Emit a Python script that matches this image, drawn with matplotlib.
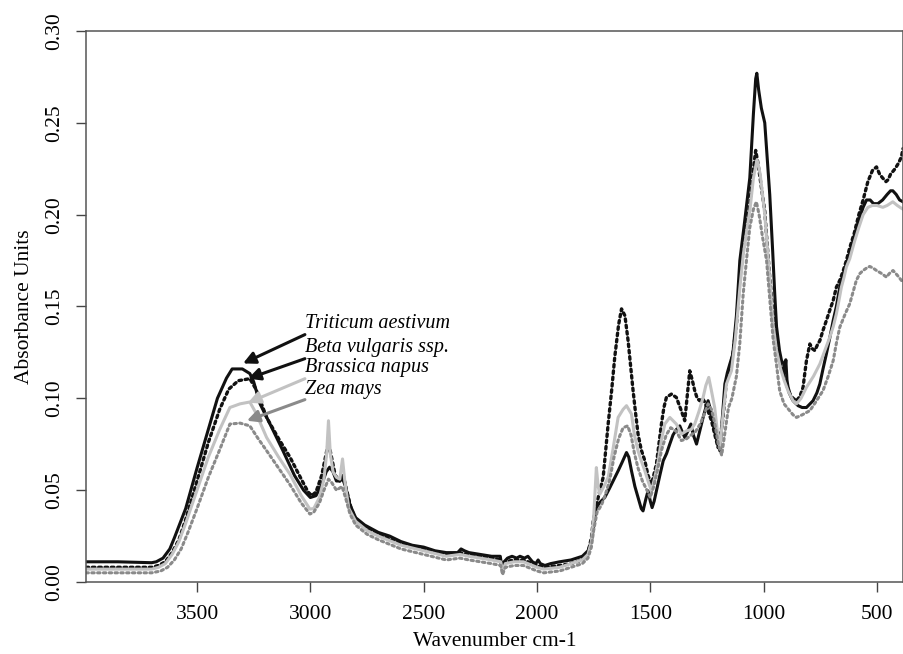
import matplotlib
matplotlib.use("Agg")
import matplotlib.pyplot as plt

plt.rcParams['font.family'] = ['Liberation Serif', 'DejaVu Serif']

# Triticum aestivum (black solid)
wheat_wn = [3990, 3850, 3700, 3680, 3650, 3620, 3600, 3550, 3500, 3450, 3410, 3370, 3345, 3300, 3267, 3250, 3222,
            3170, 3121, 3070, 3030, 3000, 2975, 2950, 2930, 2915, 2900, 2885, 2870, 2860, 2845, 2825, 2800, 2760,
            2700, 2650, 2600, 2550, 2500, 2450, 2400, 2350, 2335, 2320, 2300, 2250, 2200, 2162, 2155, 2145, 2130,
            2110, 2090, 2075, 2055, 2040, 2020, 2005, 1995, 1985, 1965, 1940, 1900, 1850, 1800, 1775, 1760, 1750,
            1740, 1725, 1701, 1680, 1660, 1642, 1625, 1605, 1595, 1583, 1568, 1554, 1540, 1532, 1520, 1510, 1500,
            1492, 1483, 1473, 1458, 1443, 1428, 1414, 1400, 1385, 1370, 1360, 1348, 1335, 1321, 1310, 1296, 1282,
            1267, 1255, 1245, 1235, 1223, 1210, 1193, 1182, 1171, 1160, 1149, 1136, 1120, 1105, 1085, 1061, 1045,
            1035, 1030, 1022, 1010, 995, 985, 973, 960, 951, 943, 930, 921, 912, 907, 902, 897, 892, 880, 870, 848,
            830, 811, 795, 782, 765, 752, 738, 723, 708, 693, 679, 664, 650, 635, 620, 600, 580, 561, 546, 530, 515,
            496, 475, 455, 440, 430, 415, 400, 385]
wheat_abs = [0.011, 0.011, 0.0105, 0.011, 0.013, 0.018, 0.024, 0.040, 0.062, 0.083, 0.100, 0.111, 0.116, 0.116,
             0.1135, 0.109, 0.097, 0.084, 0.0715, 0.058, 0.050, 0.046, 0.047, 0.053, 0.060, 0.0625, 0.060, 0.055,
             0.055, 0.057, 0.052, 0.042, 0.035, 0.031, 0.027, 0.025, 0.022, 0.020, 0.019, 0.017, 0.016, 0.016, 0.018,
             0.017, 0.016, 0.015, 0.014, 0.014, 0.008, 0.011, 0.013, 0.014, 0.013, 0.014, 0.013, 0.014, 0.011, 0.010,
             0.012, 0.010, 0.009, 0.010, 0.011, 0.012, 0.014, 0.017, 0.022, 0.030, 0.040, 0.043, 0.046, 0.051, 0.056,
             0.0605, 0.065, 0.0705, 0.068, 0.0605, 0.052, 0.046, 0.040, 0.0387, 0.045, 0.0496, 0.044, 0.0405, 0.044,
             0.0496, 0.058, 0.066, 0.070, 0.0751, 0.080, 0.083, 0.085, 0.082, 0.0787, 0.082, 0.086, 0.080, 0.0751,
             0.082, 0.0896, 0.095, 0.0987, 0.094, 0.086, 0.079, 0.0714, 0.090, 0.1078, 0.114, 0.1187, 0.124, 0.145,
             0.175, 0.195, 0.220, 0.255, 0.274, 0.277, 0.268, 0.258, 0.250, 0.232, 0.211, 0.180, 0.157, 0.139, 0.126,
             0.1205, 0.119, 0.114, 0.121, 0.110, 0.106, 0.101, 0.0987, 0.096, 0.095, 0.095, 0.097, 0.0987, 0.103,
             0.1078, 0.116, 0.1242, 0.133, 0.1424, 0.150, 0.1605, 0.167, 0.1733, 0.179, 0.188, 0.197, 0.204, 0.208,
             0.208, 0.206, 0.206, 0.208, 0.211, 0.213, 0.213, 0.211, 0.208, 0.207]

# Beta vulgaris ssp. (black dotted)
beet_wn = [3990, 3850, 3700, 3670, 3640, 3610, 3580, 3550, 3500, 3450, 3400, 3360, 3318, 3267, 3240, 3193, 3140,
           3090, 3040, 3010, 2994, 2975, 2950, 2930, 2920, 2910, 2890, 2870, 2855, 2840, 2820, 2800, 2750, 2700,
           2600, 2500, 2400, 2340, 2300, 2200, 2160, 2152, 2140, 2100, 2060, 2000, 1970, 1900, 1850, 1800, 1775,
           1760, 1752, 1740, 1730, 1708, 1686, 1670, 1657, 1640, 1627, 1612, 1598, 1587, 1576, 1565, 1554, 1540,
           1524, 1510, 1495, 1485, 1473, 1462, 1451, 1440, 1429, 1407, 1385, 1363, 1348, 1338, 1326, 1315, 1304,
           1293, 1282, 1270, 1260, 1245, 1230, 1215, 1201, 1190, 1179, 1164, 1150, 1135, 1120, 1105, 1090, 1076,
           1060, 1045, 1035, 1025, 1010, 995, 985, 973, 960, 943, 925, 910, 900, 885, 870, 855, 840, 826, 818, 811,
           800, 796, 785, 774, 763, 752, 738, 723, 708, 693, 679, 664, 650, 635, 620, 600, 580, 561, 540, 520, 502,
           488, 475, 460, 451, 440, 420, 405, 392, 385]
beet_abs = [0.008, 0.008, 0.008, 0.009, 0.011, 0.016, 0.023, 0.034, 0.055, 0.076, 0.094, 0.105, 0.1096, 0.1107,
            0.105, 0.0896, 0.078, 0.068, 0.056, 0.049, 0.047, 0.049, 0.058, 0.070, 0.076, 0.070, 0.058, 0.055,
            0.058, 0.050, 0.040, 0.034, 0.029, 0.026, 0.021, 0.018, 0.015, 0.016, 0.015, 0.013, 0.012, 0.007,
            0.011, 0.012, 0.012, 0.009, 0.008, 0.009, 0.010, 0.012, 0.016, 0.024, 0.033, 0.040, 0.046, 0.057,
            0.086, 0.105, 0.1223, 0.140, 0.1487, 0.145, 0.1314, 0.118, 0.1042, 0.092, 0.0805, 0.072, 0.066,
            0.058, 0.0532, 0.058, 0.0642, 0.075, 0.086, 0.095, 0.1005, 0.1023, 0.1005, 0.0932, 0.0878, 0.100,
            0.115, 0.110, 0.1042, 0.100, 0.0987, 0.100, 0.098, 0.093, 0.0878, 0.080, 0.0732, 0.080, 0.0896,
            0.110, 0.115, 0.125, 0.140, 0.166, 0.180, 0.193, 0.207, 0.225, 0.235, 0.228, 0.215, 0.202, 0.185,
            0.166, 0.148, 0.130, 0.118, 0.112, 0.108, 0.1024, 0.100, 0.0987, 0.101, 0.106, 0.114, 0.1205, 0.127,
            0.1296, 0.127, 0.126, 0.129, 0.1314, 0.137, 0.1424, 0.148, 0.1533, 0.1605, 0.1642, 0.169, 0.175,
            0.182, 0.190, 0.200, 0.208, 0.218, 0.224, 0.226, 0.222, 0.220, 0.218, 0.219, 0.222, 0.225, 0.228,
            0.2315, 0.236]

# Brassica napus (light grey solid)
rape_wn = [3990, 3850, 3700, 3670, 3640, 3610, 3580, 3550, 3500, 3450, 3400, 3355, 3310, 3267, 3240, 3193, 3140,
           3090, 3040, 3002, 2985, 2960, 2940, 2928, 2920, 2912, 2900, 2885, 2870, 2858, 2848, 2830, 2800, 2750,
           2700, 2600, 2500, 2400, 2340, 2300, 2200, 2160, 2152, 2140, 2100, 2060, 2000, 1970, 1900, 1850, 1800,
           1775, 1760, 1750, 1738, 1730, 1723, 1705, 1686, 1665, 1642, 1620, 1605, 1583, 1570, 1554, 1540, 1524,
           1510, 1495, 1480, 1465, 1450, 1436, 1414, 1385, 1363, 1340, 1320, 1304, 1285, 1267, 1255, 1242, 1230,
           1216, 1205, 1193, 1180, 1164, 1142, 1125, 1105, 1090, 1076, 1060, 1045, 1029, 1015, 995, 985, 973, 958,
           943, 925, 910, 892, 870, 855, 835, 811, 780, 752, 730, 708, 693, 679, 668, 657, 645, 635, 620, 600, 580,
           561, 540, 520, 500, 474, 455, 430, 410, 392, 385]
rape_abs = [0.007, 0.007, 0.007, 0.008, 0.010, 0.015, 0.022, 0.032, 0.050, 0.068, 0.083, 0.095, 0.097, 0.098,
            0.092, 0.0787, 0.068, 0.0587, 0.047, 0.0397, 0.040, 0.046, 0.056, 0.070, 0.0878, 0.070, 0.060, 0.057,
            0.056, 0.067, 0.055, 0.040, 0.033, 0.028, 0.025, 0.020, 0.017, 0.014, 0.015, 0.014, 0.012, 0.011,
            0.006, 0.010, 0.011, 0.011, 0.008, 0.007, 0.008, 0.010, 0.012, 0.015, 0.022, 0.035, 0.0623, 0.052,
            0.0478, 0.052, 0.057, 0.072, 0.0896, 0.094, 0.096, 0.0914, 0.080, 0.0714, 0.066, 0.0605, 0.055,
            0.0496, 0.057, 0.066, 0.078, 0.0860, 0.0896, 0.086, 0.0805, 0.0823, 0.083, 0.086, 0.093, 0.1005,
            0.107, 0.1114, 0.104, 0.095, 0.083, 0.0732, 0.090, 0.1078, 0.115, 0.132, 0.160, 0.178, 0.190, 0.203,
            0.220, 0.230, 0.222, 0.200, 0.184, 0.165, 0.140, 0.126, 0.116, 0.110, 0.104, 0.0987, 0.097, 0.100,
            0.106, 0.112, 0.1187, 0.126, 0.1333, 0.139, 0.146, 0.153, 0.1605, 0.166, 0.1715, 0.176, 0.185, 0.193,
            0.200, 0.204, 0.205, 0.205, 0.204, 0.205, 0.207, 0.205, 0.2035, 0.203]

# Zea mays (grey dotted)
maize_wn = [3990, 3850, 3700, 3660, 3630, 3600, 3570, 3540, 3500, 3450, 3400, 3355, 3310, 3267, 3230, 3193, 3140,
            3090, 3040, 3002, 2985, 2960, 2940, 2920, 2905, 2885, 2860, 2845, 2825, 2800, 2750, 2700, 2600, 2500,
            2400, 2340, 2300, 2200, 2160, 2152, 2140, 2100, 2060, 2000, 1970, 1900, 1850, 1800, 1775, 1760, 1750,
            1735, 1715, 1700, 1680, 1660, 1640, 1620, 1600, 1585, 1570, 1554, 1535, 1515, 1500, 1485, 1470, 1450,
            1430, 1410, 1385, 1363, 1340, 1320, 1300, 1280, 1260, 1245, 1230, 1215, 1200, 1185, 1170, 1155, 1140,
            1120, 1105, 1090, 1075, 1061, 1045, 1032, 1020, 1005, 987, 970, 958, 943, 929, 910, 885, 870, 855, 830,
            796, 770, 738, 715, 693, 679, 664, 640, 620, 605, 591, 575, 561, 545, 532, 518, 502, 480, 458, 445, 429,
            410, 392, 385]
maize_abs = [0.005, 0.005, 0.005, 0.006, 0.008, 0.012, 0.018, 0.027, 0.040, 0.057, 0.072, 0.086, 0.0865, 0.085,
             0.078, 0.0715, 0.062, 0.053, 0.043, 0.037, 0.038, 0.043, 0.050, 0.056, 0.054, 0.050, 0.052, 0.046,
             0.037, 0.031, 0.026, 0.023, 0.018, 0.015, 0.012, 0.013, 0.012, 0.010, 0.009, 0.004, 0.008, 0.009,
             0.009, 0.006, 0.005, 0.006, 0.008, 0.010, 0.013, 0.019, 0.028, 0.038, 0.042, 0.047, 0.055, 0.068,
             0.078, 0.084, 0.085, 0.080, 0.070, 0.062, 0.055, 0.050, 0.046, 0.052, 0.060, 0.072, 0.080, 0.084,
             0.082, 0.077, 0.078, 0.080, 0.082, 0.086, 0.092, 0.097, 0.094, 0.086, 0.075, 0.069, 0.082, 0.095,
             0.100, 0.112, 0.130, 0.157, 0.176, 0.193, 0.203, 0.207, 0.200, 0.188, 0.175, 0.150, 0.132, 0.118,
             0.104, 0.097, 0.0933, 0.091, 0.0896, 0.091, 0.0933, 0.098, 0.1042, 0.112, 0.1205, 0.130, 0.1387,
             0.146, 0.1515, 0.158, 0.1642, 0.168, 0.1696, 0.171, 0.1718, 0.171, 0.1696, 0.168, 0.166, 0.168,
             0.1696, 0.167, 0.1642, 0.163]

names = ["Triticum aestivum", "Beta vulgaris ssp.", "Brassica napus", "Zea mays"]
colors = ["#111111", "#111111", "#c2c2c2", "#8a8a8a"]

# annotation positions (wavenumber, absorbance)
label_y = [0.1407, 0.1276, 0.1167, 0.1047]
tail_y = [0.1347, 0.1216, 0.1107, 0.0993]
head_xy = [(3297, 0.119), (3275, 0.1107), (3275, 0.0976), (3280, 0.0878)]
label_x = 3024

fig = plt.figure(figsize=(9.04, 6.54), dpi=100)
ax = fig.add_axes([0.0951, 0.1101, 0.9038, 0.8425])

dots = (0, (0.8, 1.1))
ax.plot(wheat_wn, wheat_abs, color=colors[0], lw=2.2)
ax.plot(beet_wn, beet_abs, color=colors[1], lw=2.4, linestyle=dots, dash_capstyle="round")
ax.plot(rape_wn, rape_abs, color=colors[2], lw=2.2)
ax.plot(maize_wn, maize_abs, color=colors[3], lw=2.2, linestyle=dots, dash_capstyle="round")

for i in range(4):
    ax.annotate("", xy=head_xy[i], xytext=(label_x, tail_y[i]),
                arrowprops=dict(arrowstyle="-|>", color=colors[i], lw=2.2, mutation_scale=18,
                                shrinkA=0, shrinkB=0))
    ax.text(label_x, label_y[i], names[i], fontsize=14.5, style="italic", va="center", ha="left")

ax.set_xlim(3990, 385)
ax.set_ylim(0, 0.30)
ax.set_xticks([3500, 3000, 2500, 2000, 1500, 1000, 500])
ax.set_yticks([0.00, 0.05, 0.10, 0.15, 0.20, 0.25, 0.30])
ax.set_yticklabels(["0.00", "0.05", "0.10", "0.15", "0.20", "0.25", "0.30"], rotation=90, va="center")
ax.tick_params(axis="both", direction="out", length=7.5, width=1, color="#444444", labelsize=15.5)
ax.tick_params(axis="y", pad=8)
ax.tick_params(axis="x", pad=9)
for sp in ax.spines.values():
    sp.set_color("#555555")
    sp.set_linewidth(1.1)

ax.set_xlabel("Wavenumber cm-1", fontsize=15.5, labelpad=6)
ax.set_ylabel("Absorbance Units", fontsize=15.5, labelpad=8)

fig.savefig("out.png", dpi=100)
